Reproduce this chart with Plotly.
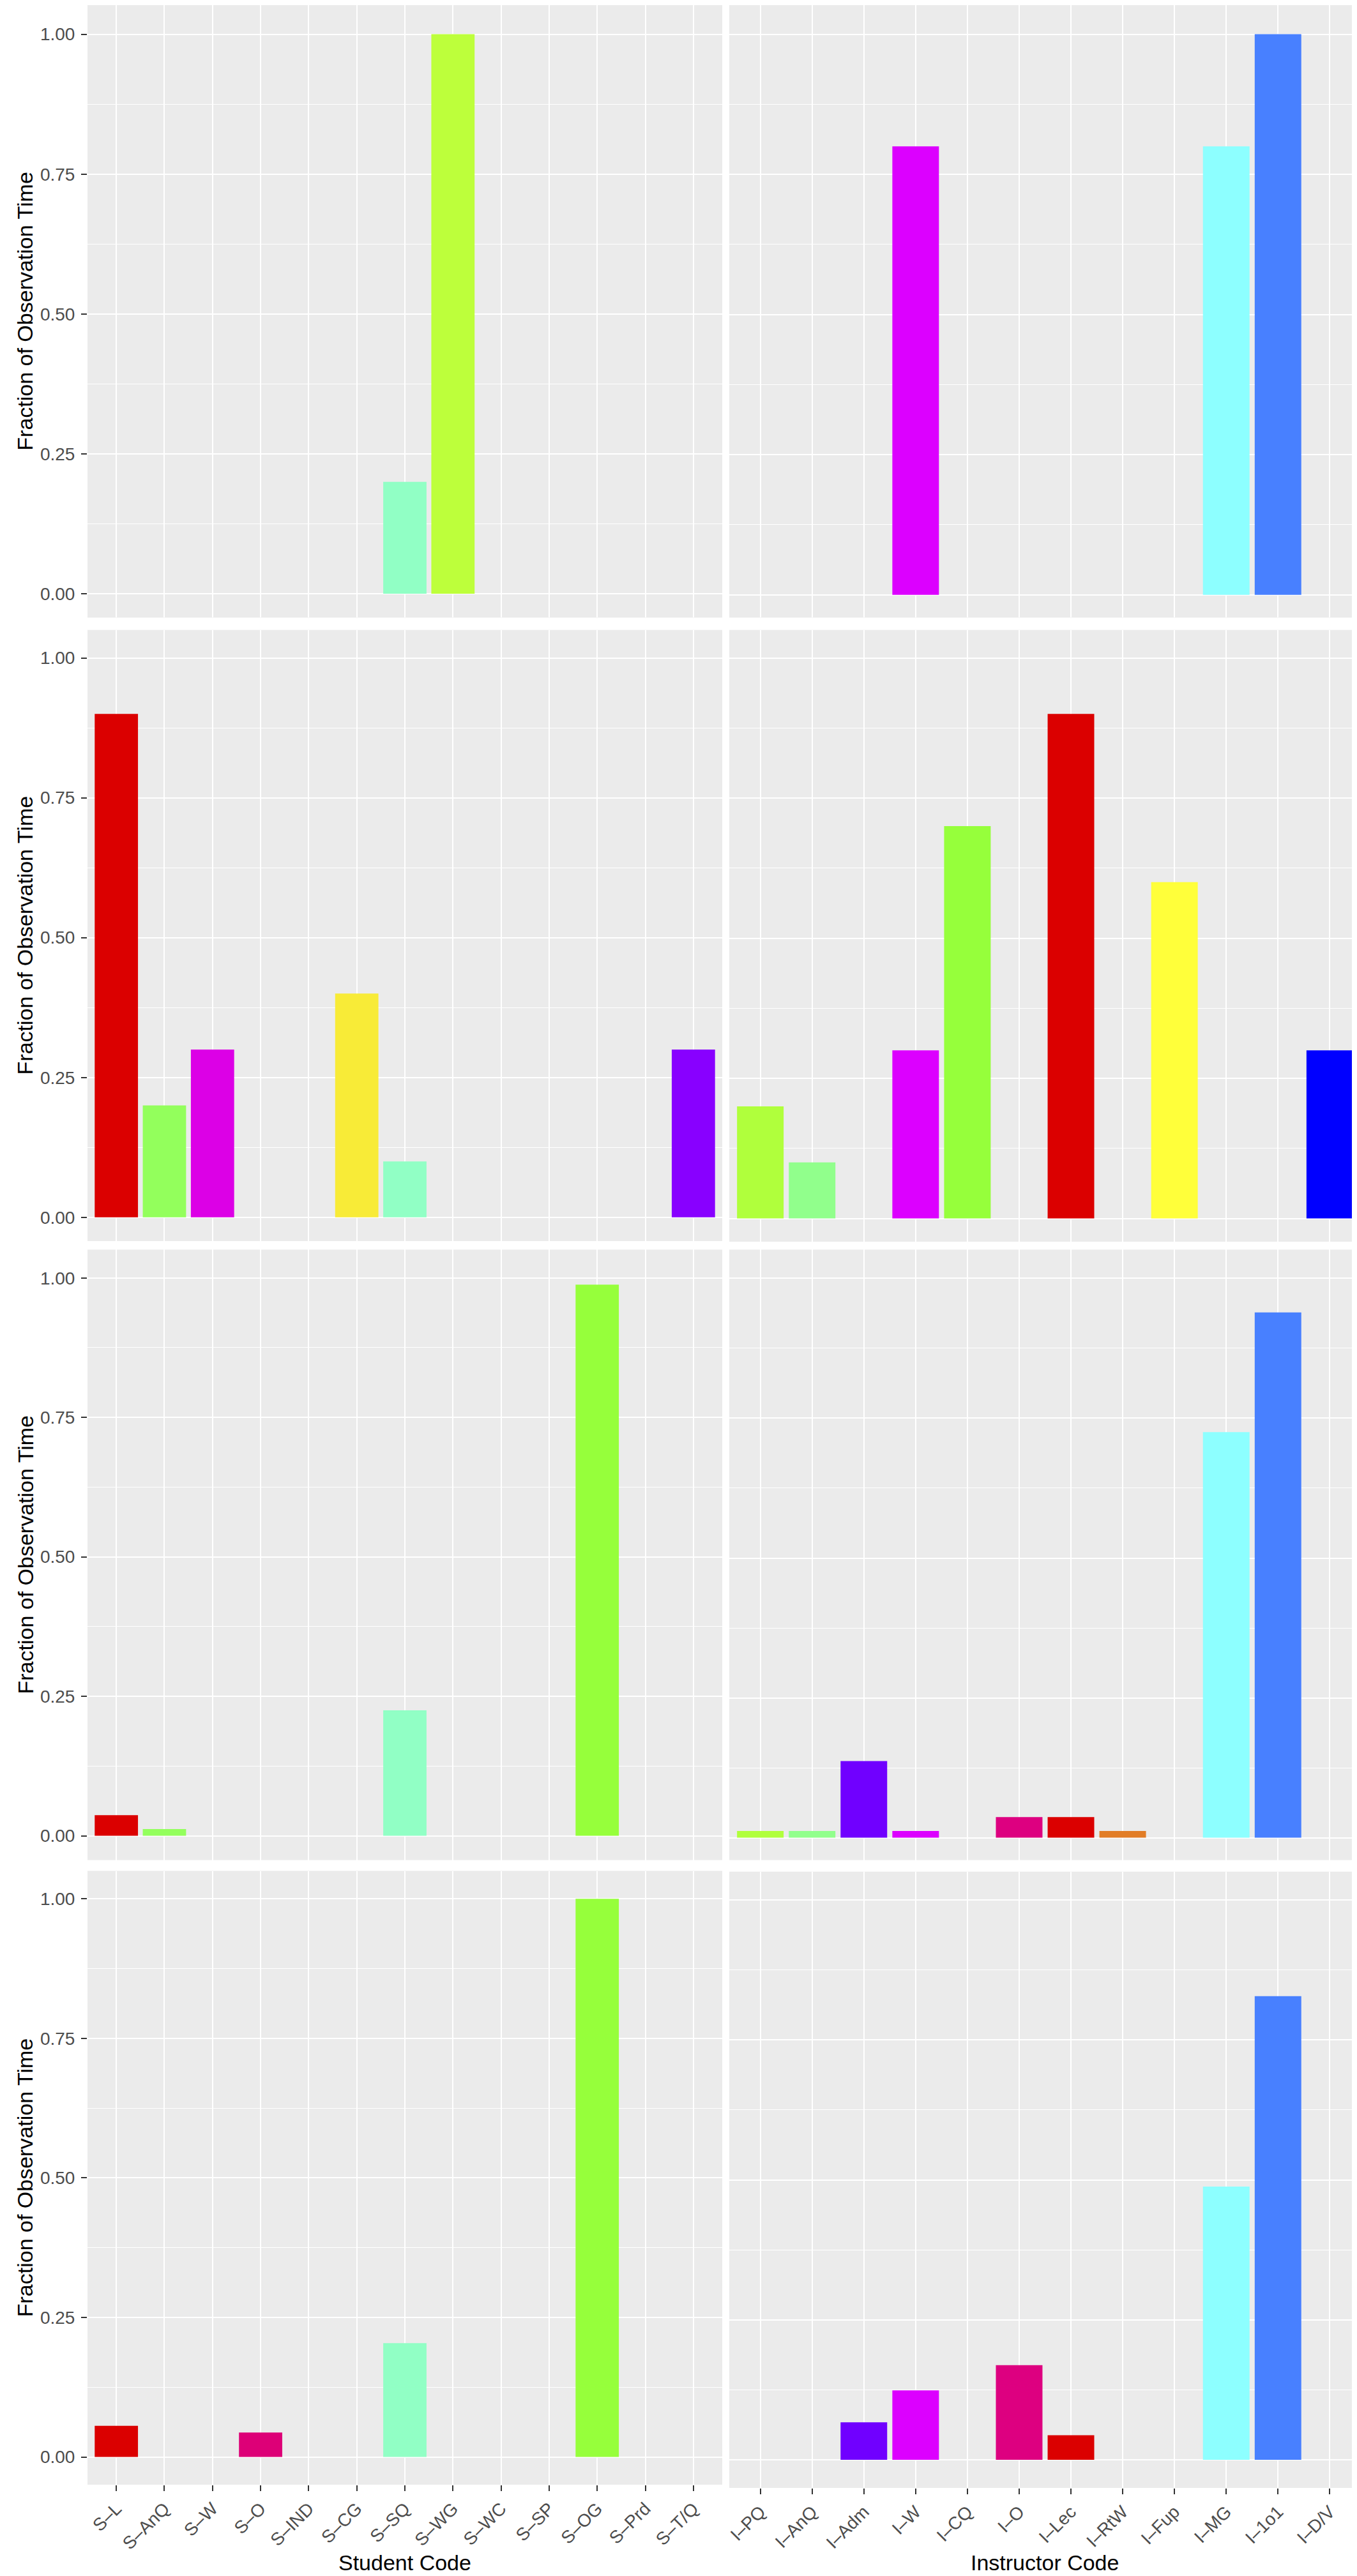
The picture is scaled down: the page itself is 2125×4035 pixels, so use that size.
import plotly.graph_objects as go

# ---------------- data ----------------
student_codes = ["S–L", "S–AnQ", "S–W", "S–O", "S–IND", "S–CG", "S–SQ",
                 "S–WG", "S–WC", "S–SP", "S–OG", "S–Prd", "S–T/Q"]
student_colors = ["#DB0000", "#93FF5C", "#DC00E6", "#DD0077", "#FF8A00", "#F8EB37",
                  "#91FFC5", "#BDFF3B", "#3AD1FF", "#FFB3E6", "#96FF3B", "#A0A0FF", "#8800FF"]

instructor_codes = ["I–PQ", "I–AnQ", "I–Adm", "I–W", "I–CQ", "I–O", "I–Lec",
                    "I–RtW", "I–Fup", "I–MG", "I–1o1", "I–D/V"]
instructor_colors = ["#B0FF3C", "#91FF8C", "#7000FF", "#DC00FF", "#96FF3B", "#DD0080",
                     "#DB0000", "#E27D26", "#FFFF3A", "#8DFFFF", "#4880FF", "#0000FF"]

student_row1 = [0, 0, 0, 0, 0, 0, 0.20, 1.00, 0, 0, 0, 0, 0]
student_row2 = [0.90, 0.20, 0.30, 0, 0, 0.40, 0.10, 0, 0, 0, 0, 0, 0.30]
student_row3 = [0.037, 0.012, 0, 0, 0, 0, 0.225, 0, 0, 0, 0.988, 0, 0]
student_row4 = [0.056, 0, 0, 0.044, 0, 0, 0.204, 0, 0, 0, 1.00, 0, 0]

instructor_row1 = [0, 0, 0, 0.80, 0, 0, 0, 0, 0, 0.80, 1.00, 0]
instructor_row2 = [0.20, 0.10, 0, 0.30, 0.70, 0, 0.90, 0, 0.60, 0, 0, 0.30]
instructor_row3 = [0.012, 0.012, 0.137, 0.012, 0, 0.037, 0.037, 0.012, 0, 0.725, 0.939, 0]
instructor_row4 = [0, 0, 0.067, 0.124, 0, 0.169, 0.044, 0, 0, 0.488, 0.828, 0]

y_tickvals = [0, 0.25, 0.5, 0.75, 1.0]
y_ticktext = ["0.00", "0.25", "0.50", "0.75", "1.00"]
y_title = "Fraction of Observation Time"
x_title_left = "Student Code"
x_title_right = "Instructor Code"

# ---------------- layout geometry (pixels) ----------------
W, H = 2125, 4035
col_x = {"L": (129, 1123), "R": (1134, 2123)}
# (top, bottom, pixel of y=1, pixel of y=0)
rows_geom = {
    "L": [(0, 959.4, 45.6, 922.0), (978.75, 1936, 1022.5, 1898.75),
          (1949.4, 2905.6, 1993.75, 2867.5), (2922.5, 3884, 2966.25, 3840.6)],
    "R": [(0, 959.4, 45.6, 923.75), (978.75, 1937, 1022.5, 1900.6),
          (1949.4, 2905.6, 1994.4, 2870.6), (2923.75, 3889, 2968.0, 3845.0)],
}

student_rows = [student_row1, student_row2, student_row3, student_row4]
instructor_rows = [instructor_row1, instructor_row2, instructor_row3, instructor_row4]

FONT = "Liberation Sans, Arial, Helvetica, sans-serif"
PANEL_BG = "#EBEBEB"
TICK_COL = "#4D4D4D"

fig = go.Figure()
layout = dict(width=W, height=H, margin=dict(l=0, r=0, t=0, b=0),
              paper_bgcolor="white", plot_bgcolor=PANEL_BG, showlegend=False,
              bargap=0.1, font=dict(family=FONT), annotations=[])

idx = 0
for r in range(4):
    for col in ["L", "R"]:
        idx += 1
        xa = "x" if idx == 1 else f"x{idx}"
        ya = "y" if idx == 1 else f"y{idx}"
        if col == "L":
            cats, cols, vals = student_codes, student_colors, student_rows[r]
        else:
            cats, cols, vals = instructor_codes, instructor_colors, instructor_rows[r]
        fig.add_trace(go.Bar(x=cats, y=vals, marker=dict(color=cols, line=dict(width=0)),
                             xaxis=xa, yaxis=ya, width=0.9))
        top, bottom, p1, p0 = rows_geom[col][r]
        unit = p0 - p1
        ymax = 1 + (p1 - top) / unit
        ymin = -(bottom - p0) / unit
        x0, x1 = col_x[col]
        bottom_row = (r == 3)
        xkey = "xaxis" if idx == 1 else f"xaxis{idx}"
        ykey = "yaxis" if idx == 1 else f"yaxis{idx}"
        layout[xkey] = dict(
            domain=[x0 / W, x1 / W], anchor=ya, type="category",
            categoryorder="array", categoryarray=cats,
            range=[-0.6, len(cats) - 0.4],
            showgrid=True, gridcolor="white", gridwidth=2.3,
            showline=False, zeroline=False, automargin=False,
            showticklabels=bottom_row, tickangle=-45,
            ticks="outside" if bottom_row else "", ticklen=9, tickwidth=2.3,
            tickcolor="#333333",
            tickfont=dict(size=28, color=TICK_COL, family=FONT),
        )
        layout[ykey] = dict(
            domain=[1 - bottom / H, 1 - top / H], anchor=xa,
            range=[ymin, ymax], tickvals=y_tickvals, ticktext=y_ticktext,
            showgrid=True, gridcolor="white", gridwidth=2.3,
            minor=dict(tickvals=[0.125, 0.375, 0.625, 0.875], showgrid=True,
                       gridcolor="white", gridwidth=1.2, ticks=""),
            zeroline=False, showline=False, automargin=False,
            showticklabels=(col == "L"),
            ticks="outside" if col == "L" else "", ticklen=9, tickwidth=2.3,
            tickcolor="#333333", ticklabelstandoff=4,
            tickfont=dict(size=28, color=TICK_COL, family=FONT),
        )
        if col == "L":
            layout["annotations"].append(dict(
                text=y_title, textangle=-90, xref="paper", yref="paper",
                x=31 / W, y=1 - (top + bottom) / 2 / H, showarrow=False,
                xanchor="center", yanchor="middle",
                font=dict(size=34, color="black", family=FONT)))

layout["annotations"].append(dict(
    text=x_title_left, xref="paper", yref="paper", x=626 / W, y=1 - 4006 / H,
    showarrow=False, xanchor="center", yanchor="middle",
    font=dict(size=34, color="black", family=FONT)))
layout["annotations"].append(dict(
    text=x_title_right, xref="paper", yref="paper", x=1628 / W, y=1 - 4006 / H,
    showarrow=False, xanchor="center", yanchor="middle",
    font=dict(size=34, color="black", family=FONT)))

fig.update_layout(**layout)
fig.write_html("out.html")
